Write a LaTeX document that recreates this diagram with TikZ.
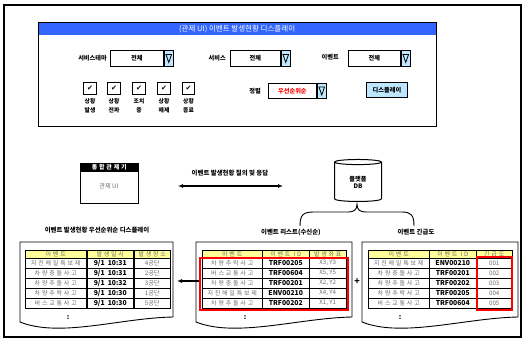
\documentclass[tikz,border=0pt]{standalone}
\usepackage{fontspec}
\setmainfont{Noto Sans CJK KR}
\newfontfamily\dejavu{DejaVu Sans}
\newfontfamily\spaced[LetterSpace=30]{Noto Sans CJK KR}
\usetikzlibrary{shapes.geometric,arrows.meta}
\definecolor{hdrblue}{RGB}{51,102,255}
\definecolor{btnblue}{RGB}{190,230,255}
\definecolor{hdryellow}{RGB}{255,255,153}
\definecolor{txtgray}{RGB}{110,110,110}
\tikzset{
  lbl/.style={inner sep=0, font=\fontsize{6.2}{7}\selectfont\bfseries},
  ddbox/.style={draw, line width=0.8pt, fill=white, inner sep=0, anchor=north west, font=\fontsize{6.2}{7}\selectfont\bfseries},
  ddbtn/.style={draw, line width=0.9pt, fill=btnblue, inner sep=0, anchor=north west, minimum width=9pt},
  chk/.style={draw, line width=1pt, minimum size=12.5pt, inner sep=0, font=\dejavu\fontsize{7}{7}\selectfont},
  chklbl/.style={inner sep=0, align=center, font=\fontsize{5.8}{8.5}\selectfont\bfseries},
  cell/.style={draw, line width=0.5pt, inner sep=0, minimum height=10pt, anchor=north west},
  hcell/.style={cell, fill=hdryellow, minimum height=8pt, text=txtgray, font=\spaced\fontsize{6}{6}\selectfont},
  ktxt/.style={text=txtgray, font=\spaced\fontsize{6}{6}\selectfont},
  btxt/.style={font=\fontsize{6.8}{6}\selectfont\bfseries},
  gtxt/.style={text=txtgray, font=\fontsize{6.2}{6}\selectfont},
  doc/.style={draw, line width=0.9pt, fill=white},
  redbox/.style={draw=red, line width=1.4pt},
  captxt/.style={inner sep=0, font=\fontsize{6.4}{7}\selectfont\bfseries},
}
\begin{document}
\begin{tikzpicture}[x=1pt,y=-1pt]
\useasboundingbox (0,0) rectangle (525,341);
\draw[line width=1.2pt] (4,5) rectangle (521,337);

% ---------------- UI panel ----------------
\node[fill=hdrblue, minimum width=398pt, minimum height=13pt, inner sep=0, anchor=north west,
      text=white, font=\fontsize{7.5}{8}\selectfont] (ptitle) at (38,22) {(관제 UI) 이벤트 발생현황 디스플레이};
\node[draw, line width=1pt, minimum width=398pt, minimum height=104pt, inner sep=0, anchor=north west] (panel) at (38,22) {};

% dropdown rows
\node[lbl, anchor=east] (l1) at (107,58) {서비스테마};
\node[ddbox, minimum width=53pt, minimum height=16pt] (d1) at (110,50) {전체};
\node[ddbtn, minimum height=16pt] (d1b) at (d1.north east) {};
\draw[line width=0.8pt] (d1b.center) +(-2.8,-4) -- +(2.8,-4) -- +(0,4) -- cycle;

\node[lbl, anchor=east] (l2) at (226,58) {서비스};
\node[ddbox, minimum width=50pt, minimum height=16pt] (d2) at (230,50) {전체};
\node[ddbtn, minimum height=16pt] (d2b) at (d2.north east) {};
\draw[line width=0.8pt] (d2b.center) +(-2.8,-4) -- +(2.8,-4) -- +(0,4) -- cycle;

\node[lbl, anchor=east] (l3) at (339,57) {이벤트};
\node[ddbox, minimum width=52pt, minimum height=16pt] (d3) at (348,50) {전체};
\node[ddbtn, minimum height=16pt] (d3b) at (d3.north east) {};
\draw[line width=0.8pt] (d3b.center) +(-2.8,-4) -- +(2.8,-4) -- +(0,4) -- cycle;

\node[lbl, anchor=east] (l4) at (261,91) {정렬};
\node[ddbox, minimum width=48pt, minimum height=15pt, text=red] (d4) at (268,83) {우선순위순};
\node[ddbtn, minimum height=15pt] (d4b) at (d4.north east) {};
\draw[line width=0.8pt] (d4b.center) +(-2.8,-4) -- +(2.8,-4) -- +(0,4) -- cycle;

\node[ddbox, fill=btnblue, line width=1pt, minimum width=41pt, minimum height=15pt] (disp) at (366,82) {디스플레이};

% checkboxes
\foreach \x/\t [count=\i] in {90/{상황\\발생},114/{상황\\전파},139/{조치\\중},164/{상황\\해제},188.5/{상황\\종료}}{
  \node[chk] (c\i) at (\x,88.5) {✔};
  \node[chklbl, anchor=north] (cl\i) at (\x,98.5) {\t};
}

% ---------------- middle ----------------
\node[draw, line width=1pt, minimum width=58pt, minimum height=40pt, inner sep=0, anchor=north west] (ctrl) at (80,163) {};
\node[fill=black, minimum width=58pt, minimum height=8pt, inner sep=0, anchor=north west, text=white,
      font=\spaced\fontsize{6}{6}\selectfont\bfseries] (ctrlh) at (80,163) {통합관제기};
\draw[line width=1pt] (ctrlh.south west) -- (ctrlh.south east);
\node[text=txtgray, font=\fontsize{6.2}{6}\selectfont, inner sep=0] (ctrlt) at (109,186) {관제 UI};

\coordinate (qa) at (178,186);
\coordinate (qb) at (283,186);
\draw[line width=1.3pt, {Latex[length=5pt,width=4pt]}-{Latex[length=5pt,width=4pt]}] (qa) -- (qb);
\node[captxt] (qlbl) at (230,173) {이벤트 발생현황 질의 및 응답};

\node[cylinder, shape border rotate=90, draw, line width=1pt, aspect=0.3, minimum width=47pt, minimum height=42pt,
      inner sep=0, align=center, font=\fontsize{6.2}{7}\selectfont\bfseries] (db) at (358,182) {플랫폼\\DB};

% brace
\draw[line width=0.9pt] (300,226) .. controls (300,214) and (304,212) .. (314,212)
  -- (348,212) .. controls (354,212) and (357,210) .. (357,204)
  .. controls (357,210) and (360,212) .. (366,212) -- (402,212)
  .. controls (411,212) and (414,215) .. (414,226);

\node[captxt] (cap1) at (97,230) {이벤트 발생현황 우선순위순 디스플레이};
\node[captxt] (cap2) at (291,232) {이벤트 리스트(수신순)};
\node[captxt] (cap3) at (416,232) {이벤트 긴급도};

% ---------------- documents ----------------
\draw[doc] (20,242) -- (173,242) -- (173,317) .. controls (120,318) and (60,338) .. (20,322) -- cycle;
\draw[doc] (196,242) -- (352,242) -- (352,317) .. controls (299,318) and (236,338) .. (196,322) -- cycle;
\draw[doc] (362,242) -- (518,242) -- (518,317) .. controls (465,318) and (402,338) .. (362,322) -- cycle;

\coordinate (ldoce) at (177,281);
\coordinate (mdocw) at (200,281);
\draw[line width=1.3pt, -{Latex[length=5pt,width=4pt]}] (mdocw) -- (ldoce);
\node[font=\fontsize{9}{9}\selectfont\bfseries, inner sep=0] (plus) at (357,282) {+};

% left table
\node[hcell, minimum width=61pt] (LH1) at (25,249.5) {이벤트};
\node[hcell, minimum width=46pt] (LH2) at (87,249.5) {발생일시};
\node[hcell, minimum width=36pt] (LH3) at (134,249.5) {발생장소};
\foreach \a/\b/\c [count=\i] in {지진해일특보제/{9/1\ \ 10:31}/4공단, 차량충돌사고/{9/1\ \ 10:31}/2공단,
   차량추돌사고/{9/1\ \ 10:32}/3공단, 차량추락사고/{9/1\ \ 10:30}/1공단, 버스교통사고/{9/1\ \ 10:30}/5공단}{
  \node[cell, ktxt, minimum width=61pt] (L\i a) at (25,{248+10*\i}) {\a};
  \node[cell, btxt, minimum width=46pt] (L\i b) at (87,{248+10*\i}) {\b};
  \node[cell, gtxt, minimum width=36pt] (L\i c) at (134,{248+10*\i}) {\c};
}
\node[font=\fontsize{7}{7}\selectfont\bfseries, inner sep=0] (Ldots) at (68,318) {:};

% middle table
\node[hcell, minimum width=60pt] (MH1) at (202,249.5) {이벤트};
\node[hcell, minimum width=47pt] (MH2) at (262,249.5) {이벤트 ID};
\node[hcell, minimum width=37pt] (MH3) at (309,249.5) {발생좌표};
\foreach \a/\b/\c [count=\i] in {차량추락사고/TRF00205/{X3, Y3}, 버스교통사고/TRF00604/{X5, Y5},
   차량충돌사고/TRF00201/{X2, Y2}, 지진해일특보제/ENV00210/{X4, Y4}, 차량추돌사고/TRF00202/{X1, Y1}}{
  \node[cell, ktxt, minimum width=60pt] (M\i a) at (202,{248+10*\i}) {\a};
  \node[cell, btxt, minimum width=47pt] (M\i b) at (262,{248+10*\i}) {\b};
  \node[cell, gtxt, minimum width=37pt] (M\i c) at (309,{248+10*\i}) {\c};
}
\draw[redbox] (M1a.north west) ++(-2,0) rectangle ([shift={(1.5,1.5)}]M5c.south east);
\node[font=\fontsize{7}{7}\selectfont\bfseries, inner sep=0] (Mdots) at (245,318) {:};

% right table
\node[hcell, minimum width=61pt] (RH1) at (368,249.5) {이벤트};
\node[hcell, minimum width=47pt] (RH2) at (429,249.5) {이벤트 ID};
\node[hcell, minimum width=36pt] (RH3) at (476,249.5) {긴급도};
\foreach \a/\b/\c [count=\i] in {지진해일특보제/ENV00210/001, 차량충돌사고/TRF00201/002,
   차량추돌사고/TRF00202/003, 차량추락사고/TRF00205/004, 버스교통사고/TRF00604/005}{
  \node[cell, ktxt, minimum width=61pt] (R\i a) at (368,{248+10*\i}) {\a};
  \node[cell, btxt, minimum width=47pt] (R\i b) at (429,{248+10*\i}) {\b};
  \node[cell, gtxt, minimum width=36pt] (R\i c) at (476,{248+10*\i}) {\c};
}
\draw[redbox] (R1c.north west) ++(1,-1) rectangle ([shift={(-0.5,1.5)}]R5c.south east);
\node[font=\fontsize{7}{7}\selectfont\bfseries, inner sep=0] (Rdots) at (400,318) {:};
\end{tikzpicture}
\end{document}
